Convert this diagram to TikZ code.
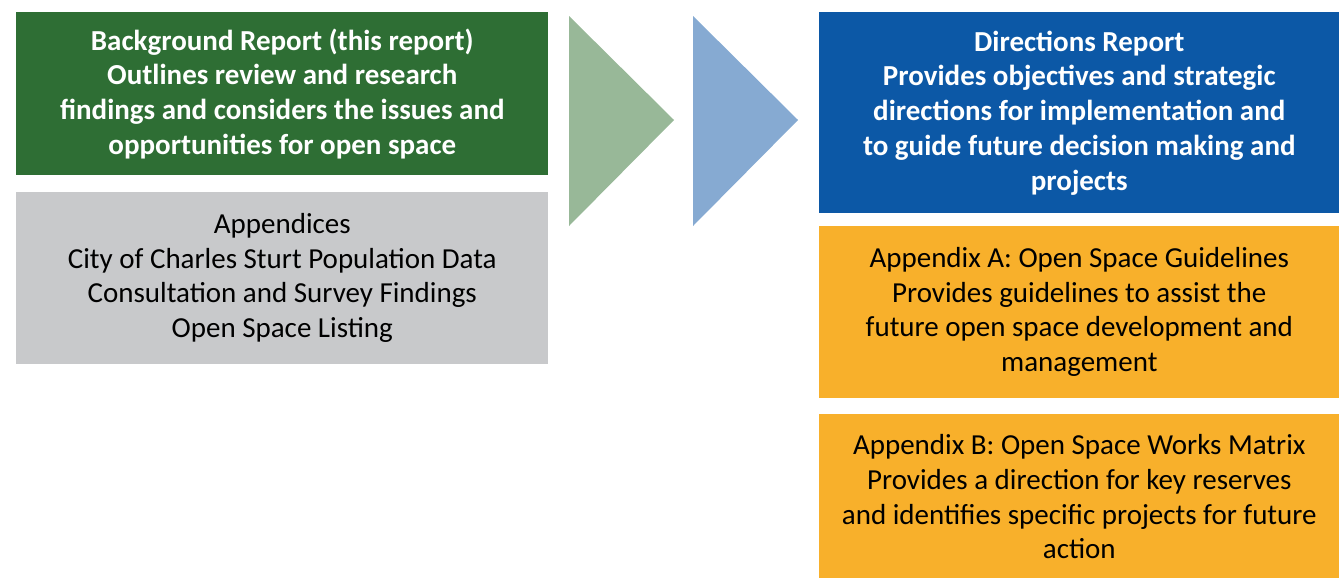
\documentclass[tikz,border=0pt]{standalone}
\usepackage{fontspec}
\setmainfont{Carlito}
\usetikzlibrary{positioning}

\definecolor{reportgreen}{HTML}{2E6E34}
\definecolor{appgrey}{HTML}{C8C9CB}
\definecolor{arrowgreen}{HTML}{98B898}
\definecolor{arrowblue}{HTML}{86AAD2}
\definecolor{reportblue}{HTML}{0C58A6}
\definecolor{apporange}{HTML}{F8B02B}

\begin{document}
\begin{tikzpicture}[x=0.02cm,y=-0.02cm]
	\tikzstyle{every node}=[inner sep=0pt,align=center,font=\fontsize{16.5}{19.8}\selectfont]
	\tikzstyle{leftbox}=[minimum width=10.64cm]
	\tikzstyle{rightbox}=[minimum width=10.4cm]
	\tikzstyle{mainbox}=[text=white,font=\fontsize{16.5}{19.8}\selectfont\bfseries]
	\useasboundingbox (0,0) rectangle (1339,578);
	% background report and appendices
	\node[leftbox,mainbox,fill=reportgreen,minimum height=3.26cm,anchor=north west] (background) at (16,12)
		{Background Report (this report)\\Outlines review and research\\findings and considers the issues and\\opportunities for open space};
	\node[leftbox,fill=appgrey,minimum height=3.44cm,below=0.32cm of background] (appendices)
		{Appendices\\City of Charles Sturt Population Data\\Consultation and Survey Findings\\Open Space Listing};
	% arrows
	\fill[arrowgreen] (569,16) -- (674,120) -- (569,226) -- cycle;
	\fill[arrowblue] (693,16) -- (798,120) -- (693,226) -- cycle;
	% directions report and appendices
	\node[rightbox,mainbox,fill=reportblue,minimum height=4.02cm,anchor=north west] (directions) at (819,12)
		{Directions Report\\Provides objectives and strategic\\directions for implementation and\\to guide future decision making and\\projects};
	\node[rightbox,fill=apporange,minimum height=3.44cm,below=0.24cm of directions] (appa)
		{Appendix A: Open Space Guidelines\\Provides guidelines to assist the\\future open space development and\\management};
	\node[rightbox,fill=apporange,minimum height=3.32cm,below=0.3cm of appa] (appb)
		{Appendix B: Open Space Works Matrix\\Provides a direction for key reserves\\and identifies specific projects for future\\action};
\end{tikzpicture}
\end{document}
